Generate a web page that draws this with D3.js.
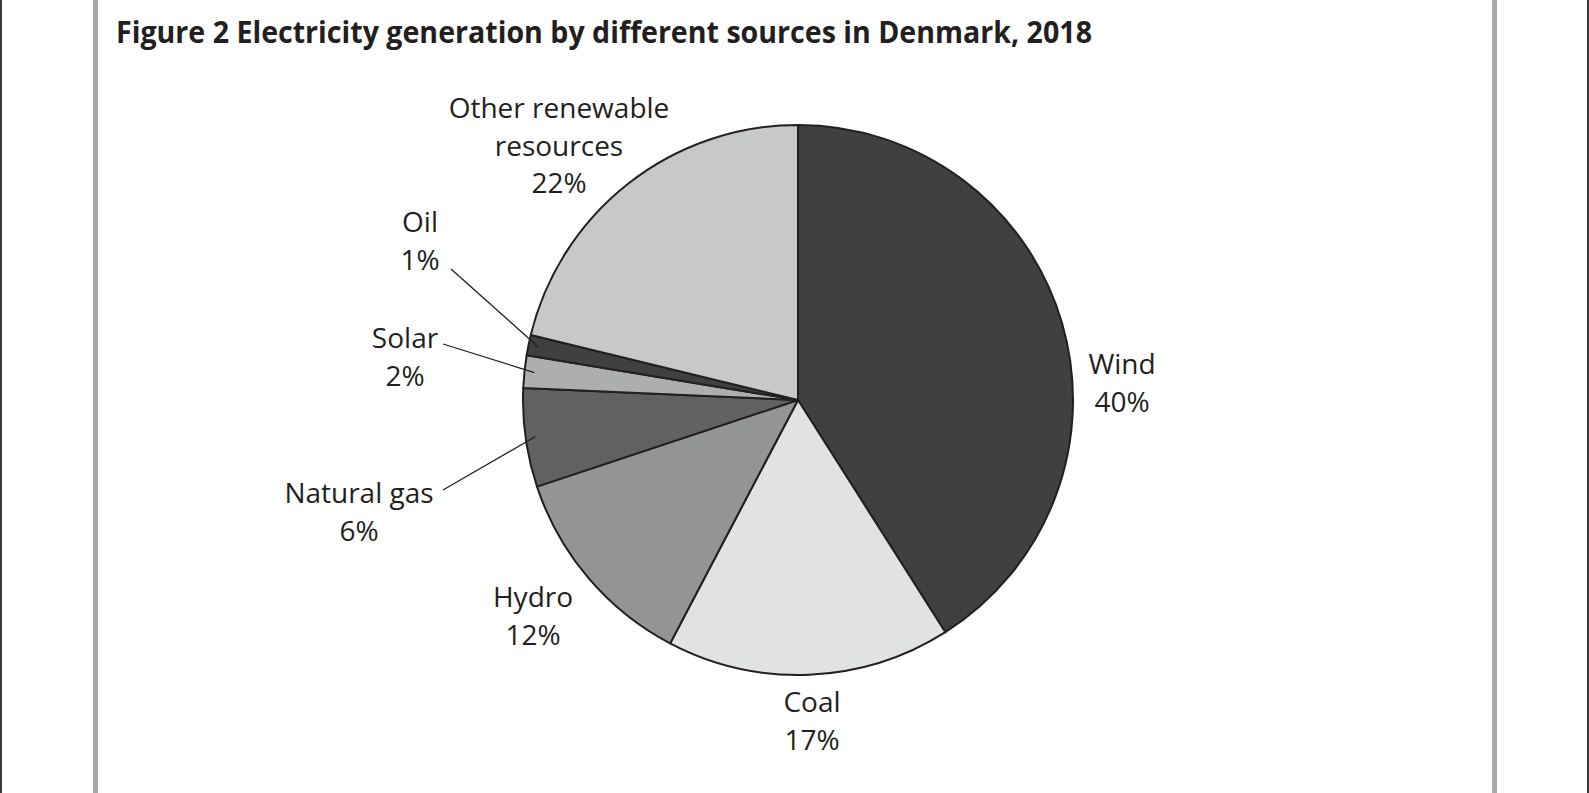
<!DOCTYPE html>
<html>
<head>
<meta charset="utf-8">
<script src="https://cdn.jsdelivr.net/npm/d3@7"></script>
<style>
  html, body { margin: 0; padding: 0; background: #fff; }
  svg { display: block; }
  text { font-family: "Open Sans", "Noto Sans", sans-serif; fill: #231f20; }
</style>
</head>
<body>
<svg id="chart" width="1589" height="793"></svg>
<script>
// data
var sources = ["Wind", "Coal", "Hydro", "Natural gas", "Solar", "Oil", "Other renewable resources"];
var shares  = [41.0, 16.7, 12.2, 5.8, 1.9, 1.2, 21.2];   // slice sizes as drawn
var labels  = ["40%", "17%", "12%", "6%", "2%", "1%", "22%"];  // printed percentages
var fills   = ["#404040", "#e1e2e3", "#939496", "#616163", "#adaeb0", "#3f4042", "#c7c8ca"];

var title = "Figure 2 Electricity generation by different sources in Denmark, 2018";

// label layout (page coords, first baseline), lines broken by hand like the print
var labelLayout = {
  "Wind":        { x: 1122, y: 374, lines: ["Wind"] },
  "Coal":        { x: 812,  y: 712, lines: ["Coal"] },
  "Hydro":       { x: 533,  y: 607, lines: ["Hydro"] },
  "Natural gas": { x: 359,  y: 503, lines: ["Natural gas"], leader: [443, 490] },
  "Solar":       { x: 405,  y: 348, lines: ["Solar"], leader: [443, 344] },
  "Oil":         { x: 420,  y: 232, lines: ["Oil"], leader: [451, 269] },
  "Other renewable resources": { x: 559, y: 118, lines: ["Other renewable", "resources"] }
};

var svg = d3.select("#chart");
var W = 1589, H = 793;
var cx = 798, cy = 400, radius = 275;
var lineH = 37.5;

// page frame
svg.append("rect").attr("x", 0).attr("y", 0).attr("width", 2).attr("height", H).attr("fill", "#3a3a3a");
svg.append("rect").attr("x", W - 2).attr("y", 0).attr("width", 2).attr("height", H).attr("fill", "#3a3a3a");
svg.append("rect").attr("x", 93).attr("y", 0).attr("width", 5).attr("height", H).attr("fill", "#a8a9ac");
svg.append("rect").attr("x", 1492).attr("y", 0).attr("width", 5).attr("height", H).attr("fill", "#a8a9ac");

svg.append("text")
  .attr("x", 116).attr("y", 43)
  .attr("font-size", 31).attr("font-weight", 700)
  .attr("textLength", 976).attr("lengthAdjust", "spacingAndGlyphs")
  .text(title);

var rows = sources.map(function (s, i) {
  return { name: s, value: shares[i], label: labels[i], fill: fills[i] };
});

var pie = d3.pie().sort(null).value(function (d) { return d.value; });
var arc = d3.arc().innerRadius(0).outerRadius(radius);
var arcs = pie(rows);

var g = svg.append("g").attr("transform", "translate(" + cx + "," + cy + ")");

g.selectAll("path.slice")
  .data(arcs)
  .enter().append("path")
  .attr("class", "slice")
  .attr("d", arc)
  .attr("fill", function (d) { return d.data.fill; })
  .attr("stroke", "#231f20")
  .attr("stroke-width", 2)
  .attr("stroke-linejoin", "round");

// leader lines for the thin slices
arcs.forEach(function (d) {
  var lay = labelLayout[d.data.name];
  if (!lay.leader) return;
  var mid = (d.startAngle + d.endAngle) / 2;
  var px = cx + Math.sin(mid) * 265;
  var py = cy - Math.cos(mid) * 265;
  svg.append("line")
    .attr("x1", lay.leader[0]).attr("y1", lay.leader[1])
    .attr("x2", px).attr("y2", py)
    .attr("stroke", "#231f20").attr("stroke-width", 1.3);
});

// labels
arcs.forEach(function (d) {
  var lay = labelLayout[d.data.name];
  var t = svg.append("text")
    .attr("text-anchor", "middle")
    .attr("font-size", 28);
  var lines = lay.lines.concat([d.data.label]);
  lines.forEach(function (ln, k) {
    t.append("tspan").attr("x", lay.x).attr("y", lay.y + k * lineH).text(ln);
  });
});
</script>
</body>
</html>
